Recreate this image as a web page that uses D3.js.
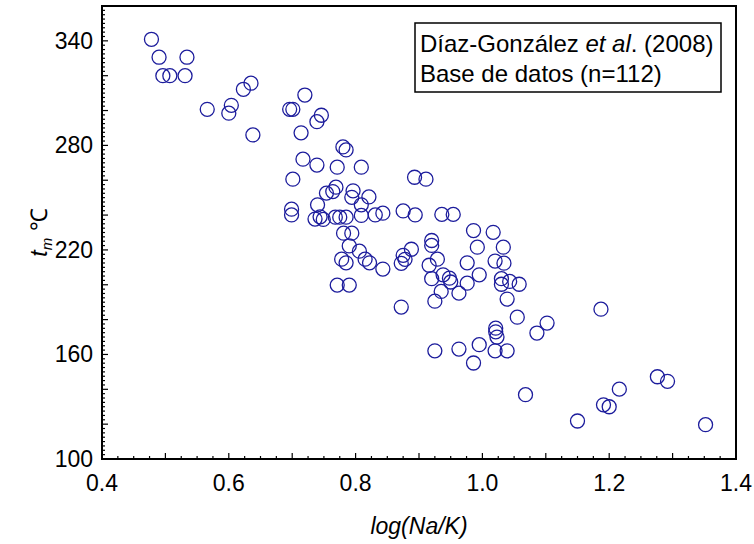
<!DOCTYPE html>
<html>
<head>
<meta charset="utf-8">
<script src="https://cdn.jsdelivr.net/npm/d3@7"></script>
<style>
  body { margin: 0; background: #fff; }
  text { font-family: "Liberation Sans", Arial, sans-serif; }
</style>
</head>
<body>
<div id="chart"></div>
<script>
// log(Na/K) values
var logNaK = [
  0.478, 0.490, 0.534, 0.496, 0.507, 0.531, 0.623, 0.635, 0.566, 0.604,
  0.600, 0.638, 0.696, 0.701, 0.720, 0.746, 0.739, 0.714, 0.780, 0.785,
  0.717, 0.739, 0.771, 0.809, 0.701, 0.893, 0.911, 0.769, 0.754, 0.764,
  0.796, 0.794, 0.821, 0.699, 0.699, 0.740, 0.809, 0.736, 0.744, 0.749,
  0.768, 0.775, 0.785, 0.809, 0.831, 0.843, 0.875, 0.894, 0.936, 0.954,
  0.781, 0.794, 0.986, 1.017, 0.790, 0.806, 0.778, 0.785, 0.815, 0.822,
  0.843, 0.875, 0.878, 0.872, 0.888, 0.920, 0.920, 0.929, 0.916, 0.976,
  0.992, 1.033, 1.020, 1.034, 0.920, 0.938, 0.948, 0.950, 0.995, 0.976,
  1.030, 1.030, 1.043, 1.058, 0.771, 0.790, 0.935, 0.963, 0.925, 1.039,
  0.872, 1.055, 1.086, 1.102, 1.187, 1.021, 1.021, 1.023, 0.925, 0.963,
  0.995, 0.986, 1.020, 1.039, 1.068, 1.150, 1.191, 1.200, 1.216, 1.276,
  1.292, 1.352
];
// temperature tm (°C)
var tm = [
  340.9, 330.6, 330.6, 320.0, 320.0, 320.0, 312.2, 315.7, 300.7, 303.0,
  298.5, 286.0, 300.7, 300.7, 308.9, 297.3, 293.6, 287.2, 279.1, 277.4,
  272.1, 268.7, 267.5, 267.5, 260.6, 261.7, 260.6, 256.0, 252.6, 253.5,
  253.9, 250.2, 250.4, 243.4, 240.1, 245.9, 245.9, 237.7, 239.0, 237.5,
  238.8, 238.8, 238.8, 239.8, 240.1, 241.1, 242.4, 240.1, 240.4, 240.4,
  229.6, 229.6, 231.1, 230.1, 222.3, 219.3, 214.7, 212.6, 214.7, 212.6,
  209.0, 216.9, 214.6, 212.3, 220.4, 225.4, 222.6, 214.7, 211.2, 212.6,
  221.6, 221.6, 213.6, 212.4, 203.5, 205.7, 203.8, 201.6, 205.7, 200.9,
  203.5, 200.3, 201.9, 200.3, 199.8, 199.8, 196.2, 195.2, 190.6, 191.8,
  187.2, 181.4, 172.3, 178.0, 186.0, 175.1, 173.0, 170.0, 162.1, 163.1,
  165.6, 155.1, 162.1, 162.1, 136.9, 121.8, 131.1, 130.0, 140.1, 147.2,
  144.6, 119.7
];
var xTicks = [0.4, 0.6, 0.8, 1.0, 1.2, 1.4];
var yTicks = [100, 160, 220, 280, 340];
var legendLines = ["Díaz-González", "Base de datos (n=112)"];

var width = 754, height = 544;
var margin = {top: 6, right: 18, bottom: 85, left: 102};

var svg = d3.select("#chart").append("svg")
    .attr("width", width)
    .attr("height", height);

var x = d3.scaleLinear().domain([0.4, 1.4]).range([margin.left, width - margin.right]);
var y = d3.scaleLinear().domain([100, 360]).range([height - margin.bottom, margin.top]);

// minor / medium ticks, drawn inside the box
var xMinor = d3.range(0.4, 1.4001, 0.025);
var yMinor = d3.range(100, 360.001, 2.5);

var ticks = svg.append("g").attr("stroke", "#000").attr("stroke-width", 1.2);
ticks.selectAll("line.xm").data(xMinor).join("line")
    .attr("x1", d => x(d)).attr("x2", d => x(d))
    .attr("y1", y(100))
    .attr("y2", (d, i) => y(100) - (i % 4 == 0 ? 6 : 3));
ticks.selectAll("line.ym").data(yMinor).join("line")
    .attr("y1", d => y(d)).attr("y2", d => y(d))
    .attr("x1", x(0.4))
    .attr("x2", (d, i) => x(0.4) + (i % 8 == 0 ? 6 : 3));

// tick labels
svg.append("g").selectAll("text").data(xTicks).join("text")
    .attr("x", d => x(d)).attr("y", y(100) + 32)
    .attr("text-anchor", "middle")
    .attr("font-size", 23)
    .text(d => d3.format(".1f")(d));

svg.append("g").selectAll("text").data(yTicks).join("text")
    .attr("x", x(0.4) - 9).attr("y", d => y(d) + 8)
    .attr("text-anchor", "end")
    .attr("font-size", 23)
    .text(d => d);

// points
svg.append("g").selectAll("circle").data(tm).join("circle")
    .attr("cx", (d, i) => x(logNaK[i]))
    .attr("cy", d => y(d))
    .attr("r", 7)
    .attr("fill", "none")
    .attr("stroke", "#1c1c9c")
    .attr("stroke-width", 1.3);

// frame
svg.append("rect")
    .attr("x", margin.left).attr("y", margin.top)
    .attr("width", width - margin.left - margin.right)
    .attr("height", height - margin.top - margin.bottom)
    .attr("fill", "none")
    .attr("stroke", "#000")
    .attr("stroke-width", 2);

// axis titles
svg.append("text")
    .attr("x", (margin.left + width - margin.right) / 2)
    .attr("y", 534)
    .attr("text-anchor", "middle")
    .attr("font-size", 23)
    .attr("font-style", "italic")
    .text("log(Na/K)");

var yl = svg.append("text")
    .attr("transform", "translate(47," + y(230) + ") rotate(-90)")
    .attr("text-anchor", "middle")
    .attr("font-size", 23);
yl.append("tspan").attr("font-style", "italic").text("t");
yl.append("tspan").attr("font-style", "italic").attr("font-size", 15).attr("dy", 5).text("m");
yl.append("tspan").attr("dy", -5).text(" \u2103");

// legend
var lg = svg.append("g");
lg.append("rect")
    .attr("x", 415).attr("y", 23)
    .attr("width", 306).attr("height", 69)
    .attr("fill", "#fff")
    .attr("stroke", "#000")
    .attr("stroke-width", 1.5);
var l1 = lg.append("text").attr("x", 420).attr("y", 52).attr("font-size", 24);
l1.append("tspan").text(legendLines[0] + " ");
l1.append("tspan").attr("font-style", "italic").text("et al");
l1.append("tspan").text(". (2008)");
lg.append("text").attr("x", 420).attr("y", 82).attr("font-size", 24).text(legendLines[1]);
</script>
</body>
</html>
